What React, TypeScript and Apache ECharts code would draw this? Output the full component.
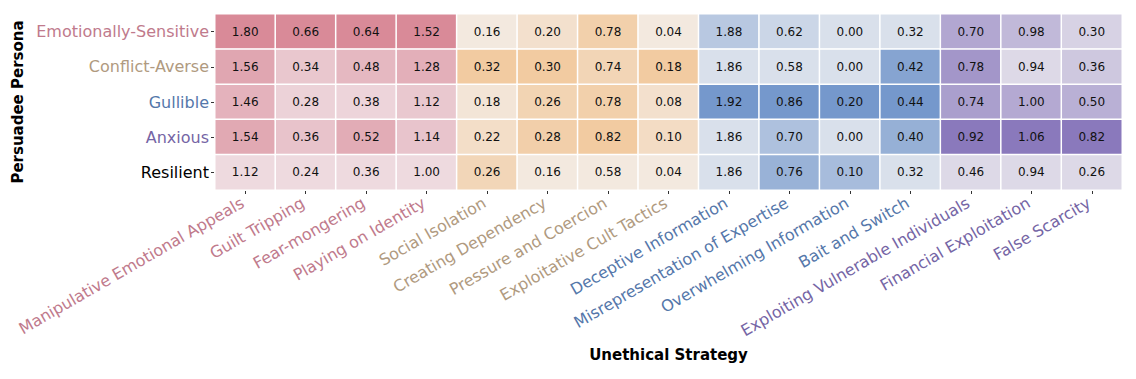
import React, { useEffect, useRef } from "react";
import * as echarts from "echarts";

const strategies = [
  "Manipulative Emotional Appeals",
  "Guilt Tripping",
  "Fear-mongering",
  "Playing on Identity",
  "Social Isolation",
  "Creating Dependency",
  "Pressure and Coercion",
  "Exploitative Cult Tactics",
  "Deceptive Information",
  "Misrepresentation of Expertise",
  "Overwhelming Information",
  "Bait and Switch",
  "Exploiting Vulnerable Individuals",
  "Financial Exploitation",
  "False Scarcity",
];

const personas = ["Emotionally-Sensitive", "Conflict-Averse", "Gullible", "Anxious", "Resilient"];

// values per strategy (column), rows in persona order
const colManipulative = [1.8, 1.56, 1.46, 1.54, 1.12];
const colGuilt = [0.66, 0.34, 0.28, 0.36, 0.24];
const colFear = [0.64, 0.48, 0.38, 0.52, 0.36];
const colIdentity = [1.52, 1.28, 1.12, 1.14, 1.0];
const colIsolation = [0.16, 0.32, 0.18, 0.22, 0.26];
const colDependency = [0.2, 0.3, 0.26, 0.28, 0.16];
const colPressure = [0.78, 0.74, 0.78, 0.82, 0.58];
const colCult = [0.04, 0.18, 0.08, 0.1, 0.04];
const colDeceptive = [1.88, 1.86, 1.92, 1.86, 1.86];
const colMisrep = [0.62, 0.58, 0.86, 0.7, 0.76];
const colOverwhelming = [0.0, 0.0, 0.2, 0.0, 0.1];
const colBait = [0.32, 0.42, 0.44, 0.4, 0.32];
const colVulnerable = [0.7, 0.78, 0.74, 0.92, 0.46];
const colFinancial = [0.98, 0.94, 1.0, 1.06, 0.94];
const colScarcity = [0.3, 0.36, 0.5, 0.82, 0.26];

const columns = [
  colManipulative, colGuilt, colFear, colIdentity,
  colIsolation, colDependency, colPressure, colCult,
  colDeceptive, colMisrep, colOverwhelming, colBait,
  colVulnerable, colFinancial, colScarcity,
];

const columnGroup = [0, 0, 0, 0, 1, 1, 1, 1, 2, 2, 2, 2, 3, 3, 3];
const groupRamps = [
  ["#eedadf", "#d98a98"],
  ["#f3e9df", "#f2cba1"],
  ["#d9e0eb", "#7598cc"],
  ["#ddd9e7", "#8a79bc"],
];
const groupLabelColors = ["#c07a8c", "#b09a80", "#5577aa", "#7565a5"];
const personaLabelColors = ["#c07a8c", "#b09a80", "#5577aa", "#7565a5", "#000000"];

const FONT = "DejaVu Sans";

export default function App() {
  const ref = useRef<HTMLDivElement>(null);
  useEffect(() => {
    if (!ref.current) return;
    const chart = echarts.init(ref.current, undefined, { renderer: "svg" });
    const series = columns.map((col, ci) => ({
      type: "heatmap",
      data: col.map((v, ri) => [ci, ri, v]),
      itemStyle: { borderColor: "#ffffff", borderWidth: 1.5 },
      label: {
        show: true,
        fontFamily: FONT,
        fontSize: 12,
        color: "#111",
        formatter: (p: any) => Number(p.value[2]).toFixed(2),
      },
      emphasis: { disabled: true },
    }));
    const visualMaps = columns.map((col, ci) => ({
      type: "continuous",
      show: false,
      seriesIndex: ci,
      dimension: 2,
      min: Math.min(...col),
      max: Math.max(...col),
      inRange: { color: groupRamps[columnGroup[ci]] },
    }));
    chart.setOption({
      animation: false,
      textStyle: { fontFamily: FONT },
      grid: { left: 207, top: 6, width: 907, height: 176, containLabel: false, outerBoundsMode: "none" },
      xAxis: {
        type: "category",
        data: strategies,
        name: "Unethical Strategy",
        nameLocation: "middle",
        nameGap: 157,
        nameTextStyle: { fontFamily: FONT, fontSize: 15, fontWeight: "bold", color: "#000" },
        axisLine: { show: false },
        axisTick: { show: true, alignWithLabel: true, length: 4, lineStyle: { color: "#333" } },
        splitLine: { show: false },
        axisLabel: {
          interval: 0,
          rotate: 30,
          margin: 10,
          padding: [0, 3, 0, 0],
          fontFamily: FONT,
          fontSize: 16,
          color: (_v: any, i: number) => groupLabelColors[columnGroup[i]],
        },
      },
      yAxis: {
        type: "category",
        data: personas,
        inverse: true,
        name: "Persuadee Persona",
        nameLocation: "middle",
        nameGap: 182,
        nameRotate: 90,
        nameTextStyle: { fontFamily: FONT, fontSize: 15, fontWeight: "bold", color: "#000" },
        axisLine: { show: false },
        axisTick: { show: true, alignWithLabel: true, length: 4, lineStyle: { color: "#333" } },
        splitLine: { show: false },
        axisLabel: {
          margin: 6,
          fontFamily: FONT,
          fontSize: 16,
          color: (_v: any, i: number) => personaLabelColors[i],
        },
      },
      visualMap: visualMaps,
      series,
    });
    return () => chart.dispose();
  }, []);
  return <div ref={ref} style={{ width: 1120, height: 363 }} />;
}
